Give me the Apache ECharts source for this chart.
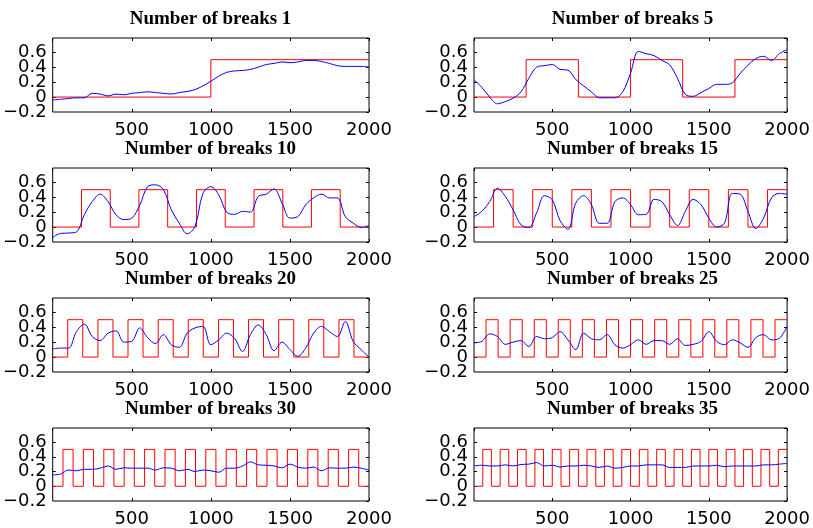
<!DOCTYPE html>
<html>
<head>
<meta charset="utf-8">
<title>Number of breaks</title>
<script src="https://cdn.jsdelivr.net/npm/echarts@6/dist/echarts.min.js"></script>
<style>
  html, body { margin: 0; padding: 0; background: #fff; }
  #chart { width: 813px; height: 528px; }
</style>
</head>
<body>
<div id="chart"></div>
<script>
// Sample positions shared by every smoothed (blue) curve
const sampleX = [0, 50, 100, 150, 200, 250, 300, 350, 400, 450, 500, 550, 600, 650, 700, 750, 800, 850, 900, 950,
  1000, 1050, 1100, 1150, 1200, 1250, 1300, 1350, 1400, 1450, 1500, 1550, 1600, 1650, 1700, 1750, 1800, 1850, 1900, 1950, 2000];

// Break counts shown in the panel titles
const breakCounts = [1, 5, 10, 15, 20, 25, 30, 35];

// Break locations of each piecewise-constant (red) signal
const breaks1 = [1000];
const breaks5 = [333, 667, 1000, 1333, 1667];
const breaks10 = [182, 364, 545, 727, 909, 1091, 1273, 1455, 1636, 1818];
const breaks15 = [125, 250, 375, 500, 625, 750, 875, 1000, 1125, 1250, 1375, 1500, 1625, 1750, 1875];
const breaks20 = [95, 190, 286, 381, 476, 571, 667, 762, 857, 952, 1048, 1143, 1238, 1333, 1429, 1524, 1619, 1714, 1810, 1905];
const breaks25 = [77, 154, 231, 308, 385, 462, 538, 615, 692, 769, 846, 923, 1000, 1077, 1154, 1231, 1308, 1385, 1462, 1538,
  1615, 1692, 1769, 1846, 1923];
const breaks30 = [65, 129, 194, 258, 323, 387, 452, 516, 581, 645, 710, 774, 839, 903, 968, 1032, 1097, 1161, 1226, 1290,
  1355, 1419, 1484, 1548, 1613, 1677, 1742, 1806, 1871, 1935];
const breaks35 = [56, 111, 167, 222, 278, 333, 389, 444, 500, 556, 611, 667, 722, 778, 833, 889, 944, 1000, 1056, 1111,
  1167, 1222, 1278, 1333, 1389, 1444, 1500, 1556, 1611, 1667, 1722, 1778, 1833, 1889, 1944];

// Signal levels that alternate at each break
const lowLevel = 0;
const highLevel = 0.5;

// Smoothed estimates (blue), one value per sampleX position
const smooth1 = [-0.04, -0.03, -0.02, -0.01, -0.01, 0.05, 0.04, 0.015, 0.04, 0.03, 0.05, 0.06, 0.07, 0.06, 0.05, 0.04, 0.06, 0.075, 0.10, 0.15,
  0.21, 0.28, 0.33, 0.35, 0.355, 0.37, 0.40, 0.435, 0.45, 0.47, 0.46, 0.47, 0.49, 0.49, 0.475, 0.45, 0.42, 0.41, 0.41, 0.41, 0.40];
const smooth5 = [0.23, 0.13, 0.0, -0.09, -0.06, -0.015, 0.07, 0.25, 0.40, 0.42, 0.435, 0.37, 0.36, 0.235, 0.15, 0.07, -0.01, -0.01, -0.01, 0.07,
  0.32, 0.61, 0.58, 0.555, 0.49, 0.43, 0.25, 0.035, 0.01, 0.06, 0.115, 0.17, 0.17, 0.19, 0.315, 0.425, 0.515, 0.545, 0.49, 0.58, 0.635];
const smooth10 = [-0.14, -0.085, -0.08, -0.065, 0.165, 0.34, 0.44, 0.34, 0.165, 0.10, 0.12, 0.29, 0.54, 0.565, 0.50, 0.23, 0.053, -0.09, 0.01, 0.45,
  0.54, 0.43, 0.20, 0.17, 0.21, 0.20, 0.41, 0.44, 0.51, 0.32, 0.12, 0.14, 0.30, 0.39, 0.44, 0.39, 0.39, 0.14, 0.053, -0.005, 0.02];
const smooth15 = [0.14, 0.21, 0.34, 0.52, 0.41, 0.23, 0.03, -0.005, 0.19, 0.42, 0.365, 0.085, -0.03, 0.32, 0.42, 0.30, 0.05, 0.05, 0.34, 0.39,
  0.30, 0.165, 0.17, 0.37, 0.34, 0.165, 0.02, 0.21, 0.37, 0.30, 0.12, 0.0, 0.053, 0.45, 0.44, 0.21, -0.02, 0.12, 0.39, 0.45, 0.44];
const smooth20 = [0.11, 0.12, 0.12, 0.34, 0.44, 0.275, 0.22, 0.32, 0.35, 0.20, 0.21, 0.39, 0.26, 0.18, 0.30, 0.165, 0.13, 0.32, 0.39, 0.41,
  0.165, 0.23, 0.32, 0.25, 0.075, 0.30, 0.43, 0.30, 0.085, 0.20, 0.10, 0.01, 0.12, 0.32, 0.41, 0.34, 0.275, 0.475, 0.21, 0.10, 0.0];
const smooth25 = [0.19, 0.21, 0.31, 0.275, 0.17, 0.20, 0.22, 0.14, 0.275, 0.245, 0.26, 0.34, 0.23, 0.10, 0.32, 0.245, 0.23, 0.30, 0.165, 0.12,
  0.165, 0.23, 0.17, 0.22, 0.22, 0.17, 0.245, 0.155, 0.17, 0.21, 0.34, 0.21, 0.165, 0.23, 0.19, 0.13, 0.26, 0.30, 0.23, 0.25, 0.41];
const smooth30 = [0.155, 0.165, 0.22, 0.21, 0.23, 0.23, 0.245, 0.275, 0.23, 0.25, 0.245, 0.245, 0.245, 0.22, 0.25, 0.245, 0.21, 0.23, 0.20, 0.22,
  0.21, 0.19, 0.245, 0.245, 0.275, 0.33, 0.29, 0.285, 0.275, 0.25, 0.30, 0.26, 0.245, 0.26, 0.21, 0.25, 0.245, 0.245, 0.26, 0.245, 0.22];
const smooth35 = [0.275, 0.285, 0.275, 0.275, 0.29, 0.275, 0.295, 0.30, 0.32, 0.275, 0.285, 0.26, 0.275, 0.275, 0.285, 0.275, 0.255, 0.275, 0.245, 0.255,
  0.275, 0.275, 0.29, 0.29, 0.29, 0.255, 0.255, 0.255, 0.275, 0.275, 0.275, 0.285, 0.265, 0.275, 0.275, 0.275, 0.275, 0.29, 0.29, 0.30, 0.31];

// Axis ticks and their labels
const xTickValues = [500, 1000, 1500, 2000];
const xTickLabels = ['500', '1000', '1500', '2000'];
const yTickValues = [-0.2, 0, 0.2, 0.4, 0.6];

const breakSets = [breaks1, breaks5, breaks10, breaks15, breaks20, breaks25, breaks30, breaks35];
const smoothSets = [smooth1, smooth5, smooth10, smooth15, smooth20, smooth25, smooth30, smooth35];

// Layout of the 4 x 2 panel grid (pixels)
const colLeft = [52, 474];
const plotWidth = 317;
const rowTop = [38, 168, 298, 428];
const plotHeight = 74;
const xMin = 0, xMax = 2000;
const yMin = -0.2, yMax = 0.79;

// Turn break locations into a step polyline that alternates low/high
function stepPoints(breaks) {
  const pts = [[xMin, lowLevel]];
  let level = lowLevel;
  breaks.forEach(function (b) {
    pts.push([b, level]);
    level = (level === lowLevel) ? highLevel : lowLevel;
    pts.push([b, level]);
  });
  pts.push([xMax, level]);
  return pts;
}

const tickFont = 'DejaVu Sans, Liberation Sans, Arial, sans-serif';
const titleFont = 'Liberation Serif, Times New Roman, serif';
const yText = function (r) { return (r === 0 ? '0' : String(r)).replace('-', '\u2212'); };
// upper y labels (0 .. 0.6) on one axis, the bottom label (-0.2) on a twin axis,
// so the tightly packed labels are all kept
const fmtYUpper = function (v) {
  const r = Math.round(v * 10) / 10;
  return (r > yMin && yTickValues.indexOf(r) >= 0) ? yText(r) : '';
};
const fmtYLower = function (v) {
  const r = Math.round(v * 10) / 10;
  return r === yMin ? yText(r) : '';
};
const innerTick = { show: true, inside: true, length: 3, lineStyle: { color: '#000', width: 1 } };
const noLine = { show: false, onZero: false };
const yLabelBase = { margin: 6, color: '#000', fontFamily: tickFont, fontSize: 18, hideOverlap: false };

const grids = [], xAxes = [], yAxes = [], series = [], titles = [];

breakCounts.forEach(function (n, i) {
  const row = Math.floor(i / 2), col = i % 2;
  const left = colLeft[col], top = rowTop[row];
  grids.push({
    left: left, top: top, width: plotWidth, height: plotHeight,
    show: true, borderColor: '#000', borderWidth: 1, backgroundColor: '#fff'
  });
  titles.push({
    text: 'Number of breaks ' + n,
    left: left + plotWidth / 2,
    top: top - 29,
    textAlign: 'center',
    padding: 0,
    textStyle: { fontFamily: titleFont, fontWeight: 'bold', fontSize: 19, lineHeight: 20, color: '#000' }
  });
  // bottom value axis: inward ticks at the listed values
  xAxes.push({
    type: 'value', gridIndex: i, min: xMin, max: xMax, position: 'bottom',
    axisLine: noLine, splitLine: { show: false },
    axisTick: Object.assign({ customValues: xTickValues }, innerTick),
    axisLabel: { show: false }
  });
  // top value axis: inward ticks only
  xAxes.push({
    type: 'value', gridIndex: i, min: xMin, max: xMax, interval: 500, position: 'top',
    axisLine: noLine, splitLine: { show: false }, axisTick: innerTick, axisLabel: { show: false }
  });
  // evenly spaced label axis: an unlabeled slot at 0, then 500 .. 2000
  xAxes.push({
    type: 'category', gridIndex: i, position: 'bottom', boundaryGap: false,
    data: [''].concat(xTickLabels),
    axisLine: noLine, axisTick: { show: false }, splitLine: { show: false },
    axisLabel: { interval: 0, hideOverlap: false, margin: 9, color: '#000', fontFamily: tickFont, fontSize: 18 }
  });
  yAxes.push({
    type: 'value', gridIndex: i, min: yMin, max: yMax, interval: 0.2, position: 'left',
    axisLine: noLine, axisTick: innerTick, splitLine: { show: false },
    axisLabel: Object.assign({ showMinLabel: false, showMaxLabel: false, formatter: fmtYUpper }, yLabelBase)
  });
  yAxes.push({
    type: 'value', gridIndex: i, min: yMin, max: yMax, interval: 0.2, position: 'right',
    axisLine: noLine, axisTick: innerTick, splitLine: { show: false }, axisLabel: { show: false }
  });
  yAxes.push({
    type: 'value', gridIndex: i, min: yMin, max: yMax, interval: 0.2, position: 'left',
    axisLine: noLine, axisTick: { show: false }, splitLine: { show: false },
    axisLabel: Object.assign({ showMinLabel: true, showMaxLabel: false, formatter: fmtYLower }, yLabelBase)
  });
  series.push({
    type: 'line', xAxisIndex: 3 * i, yAxisIndex: 3 * i,
    data: stepPoints(breakSets[i]),
    showSymbol: false, silent: true, animation: false,
    lineStyle: { color: '#ff0000', width: 1 }
  });
  series.push({
    type: 'line', xAxisIndex: 3 * i, yAxisIndex: 3 * i,
    data: sampleX.map(function (x, k) { return [x, smoothSets[i][k]]; }),
    smooth: 0.35, showSymbol: false, silent: true, animation: false,
    lineStyle: { color: '#0000ff', width: 1 }
  });
});

const chart = echarts.init(document.getElementById('chart'), null, { renderer: 'canvas' });
chart.setOption({
  backgroundColor: '#fff',
  animation: false,
  title: titles,
  grid: grids,
  xAxis: xAxes,
  yAxis: yAxes,
  series: series
});
</script>
</body>
</html>
